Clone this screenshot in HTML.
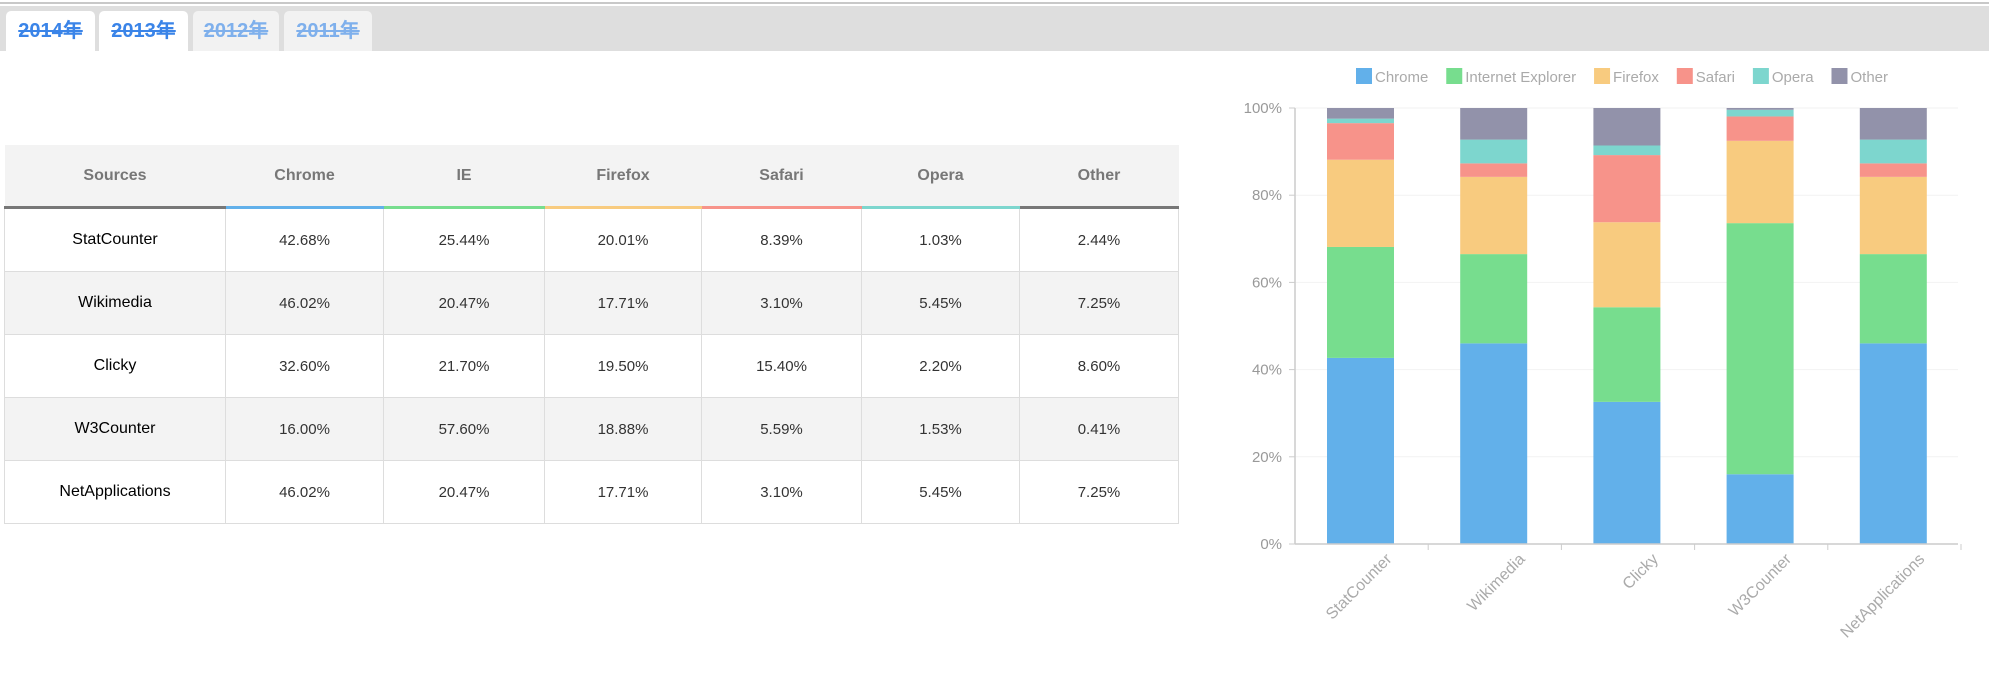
<!DOCTYPE html>
<html><head><meta charset="utf-8"><style>
body{margin:0;width:1989px;height:676px;background:#fff;position:relative;overflow:hidden;font-family:"Liberation Sans","Noto Sans CJK SC",sans-serif}
.topline{position:absolute;left:0;top:2px;width:1989px;height:2px;background:#c8c8c8}
.bar{position:absolute;left:0;top:6px;width:1989px;height:45px;background:#dedede}
.tab{position:absolute;top:11px;height:40px;border-radius:5px 5px 0 0;font-weight:bold;font-size:20px;line-height:40px;text-align:center;text-decoration:line-through;color:#3a84e8}
.t1{left:6px;width:89px;background:#fff}.t2{left:99px;width:89px;background:#fff}
.t3{left:193px;width:86px;background:#f2f2f2;color:#7fb0ec}.t4{left:284px;width:88px;background:#f2f2f2;color:#7fb0ec}
table{position:absolute;left:4px;top:145px;border-collapse:collapse;table-layout:fixed}
th{height:61px;background:#f3f3f3;color:#777;font-size:16px;font-weight:bold;border-bottom:3px solid #777;padding:0}
td{height:62px;border:1px solid #ddd;text-align:center;font-size:15px;color:#333;padding:0}
td:first-child{color:#000;font-size:16px}
tr.g td{background:#f3f3f3}
</style></head><body>
<div class="topline"></div><div class="bar"></div>
<div class="tab t1">2014年</div><div class="tab t2">2013年</div><div class="tab t3">2012年</div><div class="tab t4">2011年</div>
<table>
<colgroup><col style="width:221px"><col style="width:158px"><col style="width:161px"><col style="width:157px"><col style="width:160px"><col style="width:158px"><col style="width:159px"></colgroup>
<tr><th>Sources</th><th style="border-color:#62b0ea">Chrome</th><th style="border-color:#77dd8e">IE</th><th style="border-color:#f8cb7f">Firefox</th><th style="border-color:#f7938a">Safari</th><th style="border-color:#7dd6ce">Opera</th><th>Other</th></tr>
<tr><td>StatCounter</td><td>42.68%</td><td>25.44%</td><td>20.01%</td><td>8.39%</td><td>1.03%</td><td>2.44%</td></tr>
<tr class="g"><td>Wikimedia</td><td>46.02%</td><td>20.47%</td><td>17.71%</td><td>3.10%</td><td>5.45%</td><td>7.25%</td></tr>
<tr><td>Clicky</td><td>32.60%</td><td>21.70%</td><td>19.50%</td><td>15.40%</td><td>2.20%</td><td>8.60%</td></tr>
<tr class="g"><td>W3Counter</td><td>16.00%</td><td>57.60%</td><td>18.88%</td><td>5.59%</td><td>1.53%</td><td>0.41%</td></tr>
<tr><td>NetApplications</td><td>46.02%</td><td>20.47%</td><td>17.71%</td><td>3.10%</td><td>5.45%</td><td>7.25%</td></tr>
</table>
<svg style="position:absolute;left:0;top:0" width="1989" height="676" id="c"></svg>
<script>
var s=document.getElementById('c'),h='';
var cols=['#62b0ea','#77dd8e','#f8cb7f','#f7938a','#7dd6ce','#9292aa'];
var names=['Chrome','Internet Explorer','Firefox','Safari','Opera','Other'];
var cats=['StatCounter','Wikimedia','Clicky','W3Counter','NetApplications'];
var d=[[42.68,25.44,20.01,8.39,1.03,2.44],[46.02,20.47,17.71,3.10,5.45,7.25],[32.60,21.70,19.50,15.40,2.20,8.60],[16.00,57.60,18.88,5.59,1.53,0.41],[46.02,20.47,17.71,3.10,5.45,7.25]];
var x0=1295,y0=544,y1=108,k=(y0-y1)/100,bw=133.2;
for(var i=0;i<=5;i++){var y=y0-i*20*k;h+='<line x1="'+x0+'" x2="1958" y1="'+y+'" y2="'+y+'" stroke="#f2f2f2"/>';h+='<text x="1282" y="'+(y+5)+'" text-anchor="end" font-size="15" fill="#999">'+(i*20)+'%</text>';h+='<line x1="1289" x2="'+x0+'" y1="'+y+'" y2="'+y+'" stroke="#ccc"/>';}
d.forEach(function(r,j){var t=r.reduce(function(a,b){return a+b},0),acc=0,bx=x0+j*bw+32;r.forEach(function(v,m){var hh=v/t*100*k;h+='<rect x="'+bx+'" y="'+(y0-acc-hh)+'" width="67" height="'+hh+'" fill="'+cols[m]+'"/>';acc+=hh;});
var cx=x0+j*bw+bw/2+31;h+='<text transform="translate('+cx+',560) rotate(-45)" text-anchor="end" font-size="16" fill="#aaa">'+cats[j]+'</text>';
h+='<line x1="'+(x0+(j+1)*bw)+'" x2="'+(x0+(j+1)*bw)+'" y1="'+y0+'" y2="'+(y0+6)+'" stroke="#ccc"/>';});
h+='<line x1="'+x0+'" x2="'+x0+'" y1="'+y1+'" y2="'+y0+'" stroke="#ccc" stroke-width="1.5"/><line x1="'+x0+'" x2="1958" y1="'+y0+'" y2="'+y0+'" stroke="#ccc" stroke-width="1.5"/>';
h+='<g id="lg"></g>';
s.innerHTML=h;
var lg=document.getElementById('lg'),ns='http://www.w3.org/2000/svg',tw=[],items=[];
names.forEach(function(n,m){var r=document.createElementNS(ns,'rect');r.setAttribute('y',68);r.setAttribute('width',16);r.setAttribute('height',16);r.setAttribute('fill',cols[m]);var tx=document.createElementNS(ns,'text');tx.setAttribute('y',82);tx.setAttribute('font-size',15);tx.setAttribute('fill','#aaa');tx.textContent=n;lg.appendChild(r);lg.appendChild(tx);items.push([r,tx]);tw.push(tx.getComputedTextLength());});
var total=tw.reduce(function(a,b){return a+b},0)+6*19;var gap=(1888-1356-total)/5;var lx=1356;
items.forEach(function(it,m){it[0].setAttribute('x',lx);it[1].setAttribute('x',lx+19);lx+=19+tw[m]+gap;});
</script>
</body></html>
